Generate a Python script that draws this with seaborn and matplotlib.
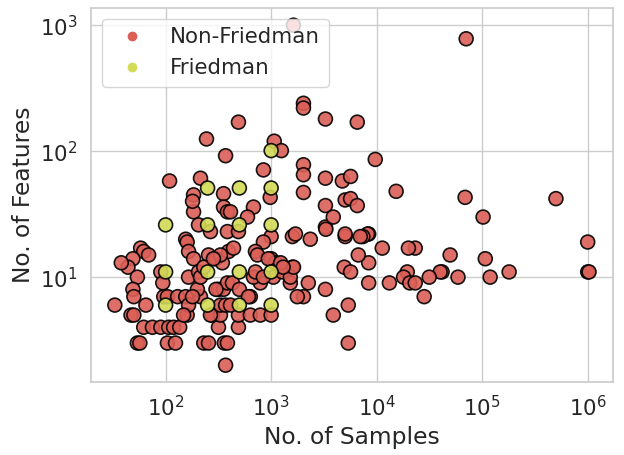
import pandas as pd
import numpy as np
import matplotlib
matplotlib.use("Agg")
import matplotlib.pyplot as plt
from matplotlib.lines import Line2D
import seaborn as sns

# regression datasets: samples vs. features (incl. target)
other_samples = [
    1626, 70500, 2024, 2024, 3270, 490, 6550, 244, 1070, 1250,
    370, 9700, 845, 2024, 2024, 3270, 4730, 5660, 109, 214,
    184, 354, 980, 184, 180, 354, 385, 412, 680, 597,
    205, 266, 385, 490, 1000, 845, 1590, 1700, 2350, 155,
    160, 165, 184, 255, 300, 345, 395, 440, 710, 742,
    1000, 1100, 1590, 58, 62, 69, 49, 44, 38, 54,
    49, 50, 65, 33, 47, 50, 54, 57, 104, 124,
    230, 255, 360, 385, 370, 62, 75, 90, 107, 119,
    136, 317, 490, 90, 94, 96, 104, 130, 155, 214,
    160, 165, 165, 317, 354, 200, 180, 278, 331, 490,
    635, 635, 790, 1000, 940, 1050, 790, 680, 710, 845,
    1280, 385, 430, 331, 370, 412, 500, 610, 205, 214,
    300, 148, 266, 15300, 68900, 500000, 102000, 1000000, 1000000, 1030000,
    180000, 119000, 107000, 49700, 59000, 41700, 40000, 31500, 28200, 23200,
    20000, 19500, 18000, 20600, 23200, 13200, 11300, 8400, 8200, 7400,
    7000, 8400, 6700, 8400, 5380, 3880, 5380, 5030, 5030, 4930,
    5660, 3270, 2250, 2024, 1770, 1520, 1520, 1630, 3270, 3270,
    3300, 3880, 5030, 5660, 6550, 2024, 1230, 1300, 230, 331,
    284,
]
other_features = [
    1000, 780, 240, 220, 180, 170, 170, 125, 120, 101,
    92, 86, 71, 78, 65, 61, 58, 63, 58, 61,
    45, 46, 43, 33, 40, 36, 33, 33, 36, 30,
    26, 23, 23, 23, 21, 19, 21, 22, 20, 20,
    19, 16, 14, 15, 14, 13, 16, 17, 16, 15,
    14, 13, 12, 17, 16, 15, 14, 12, 13, 10,
    8, 7, 6, 6, 5, 5, 3, 3, 3, 3,
    3, 3, 3, 3, 2, 4, 4, 4, 4, 4,
    4, 4, 4, 11, 9, 7, 7, 7, 7, 7,
    5, 6, 10, 8, 8, 8, 7, 5, 5, 5,
    7, 5, 5, 5, 14, 10, 9, 10, 11, 10,
    11, 9, 9, 6, 6, 6, 8, 7, 11, 10,
    8, 5, 5, 48, 43, 42, 30, 19, 11, 11,
    11, 10, 14, 15, 10, 11, 11, 10, 7, 17,
    17, 11, 10, 9, 9, 9, 17, 22, 22, 21,
    21, 13, 15, 9, 6, 5, 3, 21, 22, 12,
    11, 8, 9, 7, 7, 9, 10, 12, 37, 25,
    24, 30, 41, 42, 37, 47, 13, 12, 12, 15,
    14,
]
fri_samples = [100, 100, 100, 250, 250, 250, 250, 500, 500, 500, 500,
               1000, 1000, 1000, 1000, 1000]
fri_features = [26, 11, 6, 51, 26, 11, 6, 51, 26, 11, 6,
                101, 51, 26, 11, 6]

groups = ["Non-Friedman", "Friedman"]
colors = ["#db5f57", "#d3db57"]

df = pd.DataFrame({
    "samples": other_samples + fri_samples,
    "features": other_features + fri_features,
    "kind": [groups[0]] * len(other_samples) + [groups[1]] * len(fri_samples),
})

sns.set_theme(style="whitegrid", font_scale=1.4)
fig, ax = plt.subplots(figsize=(6.24, 4.55), dpi=100)

sns.scatterplot(data=df, x="samples", y="features", hue="kind",
                palette=colors, s=100, alpha=0.9, edgecolor="black",
                linewidth=1.2, ax=ax, legend=False)
ax.set_xscale("log")
ax.set_yscale("log")
ax.set_xlabel("No. of Samples")
ax.set_ylabel("No. of Features")

handles = [Line2D([], [], marker="o", linestyle="", color=c, markersize=6)
           for c in colors]
ax.legend(handles, groups, loc="upper left")

fig.subplots_adjust(left=0.146, right=0.982, top=0.982, bottom=0.160)
fig.savefig("out.png")
